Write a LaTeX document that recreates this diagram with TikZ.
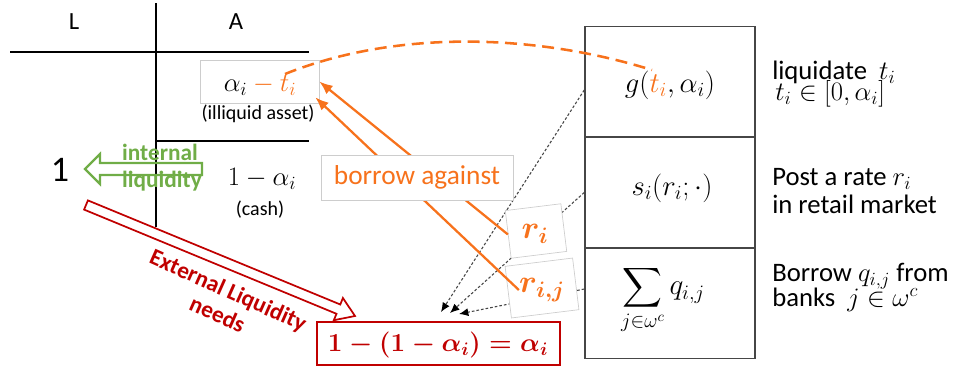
\documentclass[tikz,border=0pt]{standalone}
\usepackage{fix-cm}
\usepackage{fontspec}
\setmainfont{Carlito}
\usepackage{amsmath}
\usetikzlibrary{arrows.meta,calc}
\definecolor{orng}{RGB}{247,114,28}
\definecolor{grn}{RGB}{112,173,71}
\definecolor{dred}{RGB}{192,0,0}
\definecolor{lgray}{RGB}{205,205,205}
\definecolor{dgray}{RGB}{70,70,70}
\newcommand{\fsz}[2]{\fontsize{#1}{#2}\selectfont}
\begin{document}
\begin{tikzpicture}[x=0.75pt,y=-0.75pt,every node/.style={inner sep=0pt},
  tline/.style={line width=1.4pt,black},
  rbox/.style={draw=dgray,line width=1.1pt,minimum width=127.5pt,minimum height=83pt},
  dotc/.style={draw=dgray,line width=0.8pt,dash pattern=on 2pt off 1.5pt,-{Latex[length=7pt,width=6pt,color=black]}},
  rfr/.style={draw=lgray,line width=0.5pt,fill=white,rotate=7},
  oarr/.style={draw=orng,line width=1.7pt,-{Latex[length=10pt,width=8pt]}},
  rtxt/.style={font=\fsz{20}{24},anchor=base west},
  gtx/.style={text=grn,font=\bfseries\fsz{17.5}{21}},
  rlab/.style={font=\fsz{24}{28},text=orng}]
\useasboundingbox (0,0) rectangle (962,371);

% T-account
\draw[tline] (10,52) -- (309,52);
\draw[tline] (156,3) -- (156,227);
\draw[tline] (156,141) -- (309,141);
\node[font=\fsz{18.5}{22}] (hL) at (74,22) {L};
\node[font=\fsz{18.5}{22}] (hA) at (236,22) {A};

% right boxes
\node[rbox] (gbox) at (670,82) {};
\node[rbox] (sbox) at (670,192.5) {};
\node[rbox] (qbox) at (670,303) {};
\node[font=\fsz{21.5}{26}] (gtxt) at (670,85) {$g(\textcolor{orng}{t_i},\alpha_i)$};
\node[font=\fsz{21.5}{26}] (stxt) at (672,188) {$s_i(r_i;\cdot)$};
\node[font=\fsz{22}{27}] (qtxt) at (663,300) {$\displaystyle\sum_{j\in\omega^c} q_{i,j}$};

% right labels
\node[rtxt] (l1) at (772,79) {liquidate\ \ $t_i$};
\node[rtxt] (l2) at (775,100) {$t_i\in[0,\alpha_i]$};
\node[rtxt] (l3) at (772,185) {Post a rate $r_i$};
\node[rtxt] (l4) at (772,213) {in retail market};
\node[rtxt] (l5) at (772,281) {Borrow $q_{i,j}$ from};
\node[rtxt] (l6) at (772,306) {banks\ \ $j\in\omega^c$};

% dotted connectors
\coordinate (e1) at (441,312);
\coordinate (e2) at (450,313);
\coordinate (e3) at (459,314);
\draw[dotc] ([yshift=-6pt]gbox.west) -- (e1);
\draw[dotc] (sbox.west) -- (e2);
\draw[dotc] ([yshift=10.5pt]qbox.west) -- (e3);

% r boxes
\node[rfr,minimum width=42pt,minimum height=36pt] (rib) at (536,231) {};
\node[rfr,minimum width=51pt,minimum height=39pt] (rijb) at (542,288) {};
\node[rlab] (rlabi) at (535,234) {$\boldsymbol{r_i}$};
\node[rlab] (rlabij) at (542,290) {$\boldsymbol{r_{i,j}}$};

% alpha - t box
\node[draw=lgray,line width=0.5pt,minimum width=89.25pt,minimum height=32.25pt] (abox) at (259.5,81.5) {};
\node[font=\fsz{20}{24}] (atxt) at (260,85) {$\alpha_i\mathbin{\textcolor{orng}{-}}\textcolor{orng}{t_i}$};
\node[font=\fsz{15}{18}] (ill) at (258,114) {(illiquid asset)};

% orange arrows
\draw[oarr] (rib.west) -- (abox.east);
\draw[oarr] (rlabij.west) -- ($(abox.south east)+(-4,-6)$);

% borrow against
\node[draw=lgray,fill=white,line width=0.5pt,minimum width=144pt,minimum height=33.75pt,text=orng,font=\fsz{20.5}{24}] (borrow) at (417,177.5) {borrow against};

% cash side
\node[font=\fsz{20}{24}] (cashv) at (262,179) {$1-\alpha_i$};
\node[font=\fsz{15}{18}] (cash) at (260,210) {(cash)};
\node[font=\fsz{27}{32}] (one) at (60,170) {1};

% green block arrow
\draw[grn,line width=1.6pt,line join=miter] (202,163) -- (100,163) -- (100,154) -- (85,169) -- (100,184) -- (100,175) -- (202,175) -- cycle;
\node[gtx] (int1) at (160,152) {internal};
\node[gtx] (int2) at (162,181) {liquidity};

% red block arrow
\draw[dred,line width=1.3pt,line join=miter] (87.9,200.4) -- (340.3,304.5) -- (342.9,298.0) -- (355,316) -- (333.8,320.2) -- (336.5,313.8) -- (84.1,209.6) -- cycle;
\node[text=dred,font=\bfseries\fsz{17.5}{20},rotate=-24,align=center] (ext) at (223,302) {External Liquidity\\needs};

% result box
\node[draw=dred,line width=1.8pt,minimum width=182pt,minimum height=32.25pt] (res) at (438.5,343.5) {};
\node[text=dred,font=\fsz{19.5}{23}] (restxt) at (438,345) {$\boldsymbol{1-(1-\alpha_i)=\alpha_i}$};

% dashed orange curve
\coordinate (c1) at (285,74);
\coordinate (c2) at (652,70);
\draw[orng,line width=1.9pt,dash pattern=on 9pt off 5pt] (c1) .. controls (400,28) and (540,35) .. (c2);
\end{tikzpicture}
\end{document}
